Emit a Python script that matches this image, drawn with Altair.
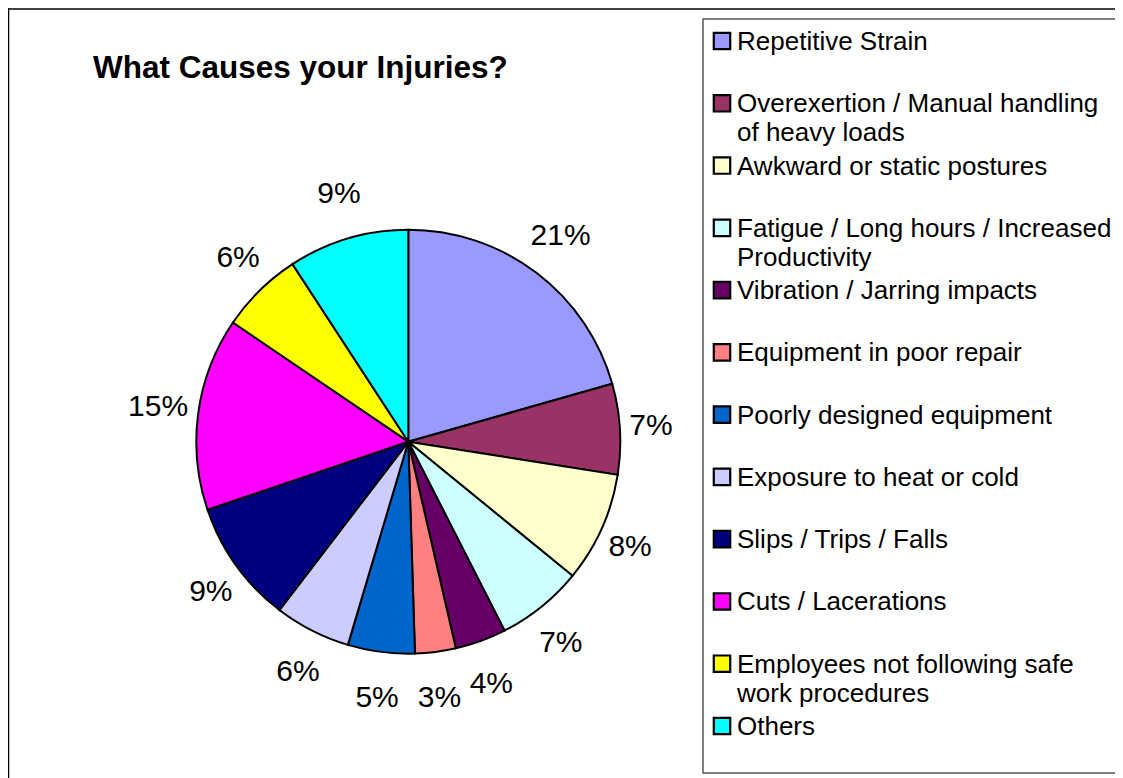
import altair as alt
import pandas as pd

title_text = "What Causes your Injuries?"

categories = [
    "Repetitive Strain",
    "Overexertion / Manual handling of heavy loads",
    "Awkward or static postures",
    "Fatigue / Long hours / Increased Productivity",
    "Vibration / Jarring impacts",
    "Equipment in poor repair",
    "Poorly designed equipment",
    "Exposure to heat or cold",
    "Slips / Trips / Falls",
    "Cuts / Lacerations",
    "Employees not following safe work procedures",
    "Others",
]
legend_labels = [
    "Repetitive Strain",
    "Overexertion / Manual handling\nof heavy loads",
    "Awkward or static postures",
    "Fatigue / Long hours / Increased\nProductivity",
    "Vibration / Jarring impacts",
    "Equipment in poor repair",
    "Poorly designed equipment",
    "Exposure to heat or cold",
    "Slips / Trips / Falls",
    "Cuts / Lacerations",
    "Employees not following safe\nwork procedures",
    "Others",
]
values = [20.6, 6.9, 8.4, 6.6, 3.9, 3.1, 5.1, 5.8, 9.4, 14.7, 6.3, 9.2]
colors = ["#9999FF", "#993366", "#FFFFCC", "#CCFFFF", "#660066", "#FF8080",
          "#0066CC", "#CCCCFF", "#000080", "#FF00FF", "#FFFF00", "#00FFFF"]

df = pd.DataFrame({
    "idx": list(range(len(categories))),
    "cat": categories,
    "leg": legend_labels,
    "value": values,
})

FONT = "Liberation Sans"
CX, CY, R = 400.3, 433.7, 212

color = alt.Color("cat:N", scale=alt.Scale(domain=categories, range=colors), legend=None)

base = alt.Chart(df)
one = pd.DataFrame({"a": [0]})

# outer frame (top and left edges visible in the window)
frame_top = alt.Chart(one).mark_rule(color="black", strokeWidth=1.5).encode(
    x=alt.value(0), x2=alt.value(1107), y=alt.value(1)
)
frame_left = alt.Chart(one).mark_rule(color="black", strokeWidth=1.5).encode(
    x=alt.value(0.5), y=alt.value(0), y2=alt.value(770)
)

pie = base.mark_arc(outerRadius=R, stroke="black", strokeWidth=2).encode(
    theta=alt.Theta("value:Q", stack=True),
    order=alt.Order("idx:Q"),
    color=color,
    x=alt.value(CX),
    y=alt.value(CY),
)

labels = base.transform_window(
    cum="sum(value)", sort=[alt.SortField("idx")], frame=[None, 0]
).transform_joinaggregate(
    total="sum(value)"
).transform_calculate(
    mid="(datum.cum - datum.value/2) / datum.total * 2 * PI",
    pct="format(datum.value/100, '.0%')",
).transform_calculate(
    hw="length(datum.pct) * 9.5 + 2",
).transform_calculate(
    lx=f"{CX} + (222 + datum.hw) * sin(datum.mid)",
    ly=f"{CY} - 258 * cos(datum.mid)",
).mark_text(font=FONT, fontSize=30, align="center", baseline="middle", color="black").encode(
    x=alt.X("lx:Q", scale=None, axis=None),
    y=alt.Y("ly:Q", scale=None, axis=None),
    text="pct:N",
)

legend_box = alt.Chart(one).mark_rect(
    fill="white", stroke="#555555", strokeWidth=1.5
).encode(
    x=alt.value(695), x2=alt.value(1125), y=alt.value(11), y2=alt.value(765)
)

leg_y = alt.Y("idx:Q", scale=alt.Scale(domain=[0, 11], range=[33, 718]), axis=None)

leg_sym = base.mark_square(size=270, stroke="black", strokeWidth=2.2, opacity=1).encode(
    x=alt.value(714),
    y=leg_y,
    color=color,
)

leg_txt = base.mark_text(
    font=FONT, fontSize=26, align="left", baseline="alphabetic", dy=9,
    lineBreak="\n", lineHeight=29, color="black"
).encode(
    x=alt.value(729),
    y=leg_y,
    text="leg:N",
)

title = alt.Chart(pd.DataFrame({"t": [title_text]})).mark_text(
    font=FONT, fontSize=31.5, fontWeight="bold", align="left", baseline="alphabetic", color="black"
).encode(
    x=alt.value(85), y=alt.value(70), text="t:N"
)

chart = alt.layer(frame_top, frame_left, legend_box, pie, labels, leg_sym, leg_txt, title).resolve_scale(
    x="independent", y="independent"
).properties(
    width=1107, height=770, padding=0,
    autosize=alt.AutoSizeParams(type="none"),
).configure_view(stroke=None)

chart.save("out.html", embed_options={"renderer": "svg", "actions": False})
